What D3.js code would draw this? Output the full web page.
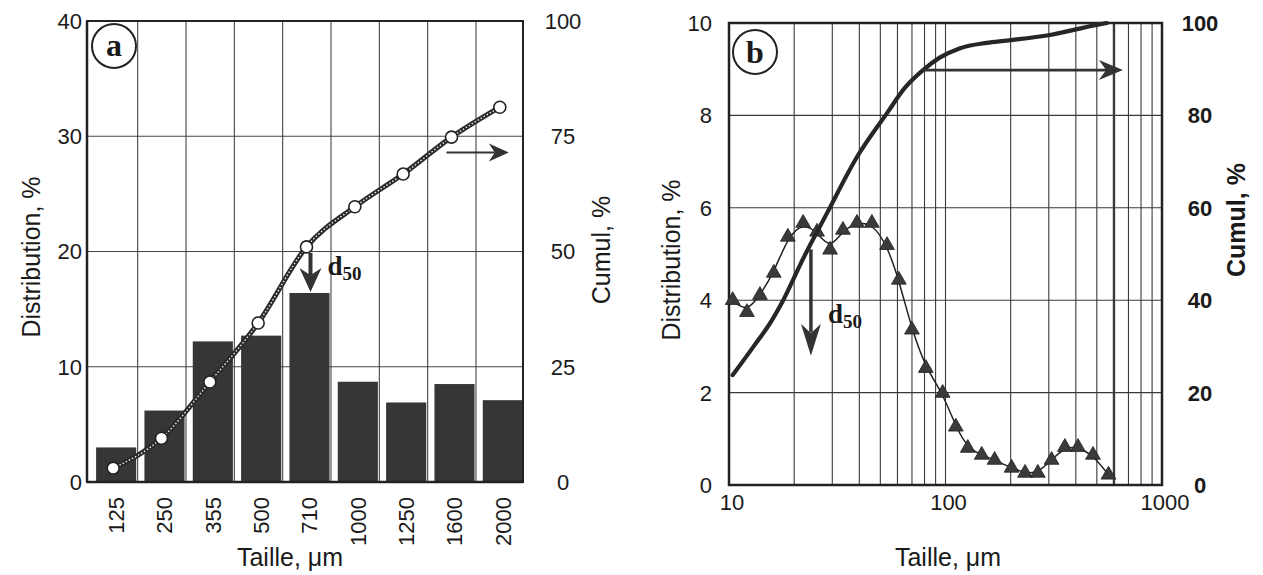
<!DOCTYPE html>
<html><head><meta charset="utf-8">
<script src="https://cdn.jsdelivr.net/npm/d3@7"></script>
<style>
html,body{margin:0;padding:0;background:#fff;}
svg{display:block;}
text{font-family:"Liberation Sans",Arial,sans-serif;fill:#1a1a1a;}
</style></head>
<body>
<svg id="chart" width="1263" height="575"></svg>
<script>
// ---------- Panel a data ----------
const catsA = ["125","250","355","500","710","1000","1250","1600","2000"];
const distA = [3.0, 6.2, 12.2, 12.7, 16.4, 8.7, 6.9, 8.5, 7.1];
const cumA  = [3.0, 9.5, 21.7, 34.5, 51.0, 59.7, 66.8, 74.8, 81.3];
const ticksLeftA  = [0, 10, 20, 30, 40];
const ticksRightA = [0, 25, 50, 75, 100];

// ---------- Panel b data ----------
const sizeB = [10.4,12.1,13.9,16.1,18.7,22.0,25.5,29.3,33.6,39.0,45.7,53.7,60.9,70.0,81.1,97,111.6,126.7,147,168.6,202,233,267,309,356,409,480,566];
const distB = [4.0,3.74,4.11,4.59,5.37,5.67,5.48,5.09,5.52,5.67,5.67,5.19,4.44,3.36,2.53,1.99,1.26,0.80,0.65,0.54,0.37,0.26,0.26,0.54,0.82,0.82,0.65,0.22];
const cumSizeB = [10.4, 13, 15.8, 17.8, 22, 28.4, 39, 53.7, 65, 78.7, 94, 116, 155, 192, 303, 499, 556];
const cumB     = [23.8, 30, 35.7, 40, 49, 58.9, 71, 80.5, 86, 89.8, 92.5, 94.5, 95.7, 96.2, 97.4, 99.6, 100];
const ticksLeftB  = [0, 2, 4, 6, 8, 10];
const ticksRightB = [0, 20, 40, 60, 80, 100];
const ticksXB = [10, 100, 1000];

const svg = d3.select("#chart");
const dark = "#333";

function arrowHead(g, x, y, dir, len, half) {
  let pts;
  if (dir === "down") pts = [[x, y], [x - half, y - len], [x, y - len * 0.7], [x + half, y - len]];
  else pts = [[x, y], [x - len, y - half], [x - len * 0.7, y], [x - len, y + half]];
  g.append("path").attr("d", "M" + pts.map(p => p.join(",")).join("L") + "Z").attr("fill", dark);
}

// =================== PANEL A ===================
(function(){
  const L = 87, R = 523, T = 21, B = 482;
  const g = svg.append("g");
  const x = d3.scaleBand().domain(catsA).range([92, 527]).paddingInner(0.17).paddingOuter(0.085);
  const y = d3.scaleLinear().domain([0, 40]).range([B, T]);
  const y2 = d3.scaleLinear().domain([0, 100]).range([B, T]);
  const cx = d => x(d) + x.bandwidth() / 2;

  g.selectAll(".hg").data(ticksLeftA.slice(1, -1)).join("line")
    .attr("x1", L).attr("x2", R).attr("y1", d => y(d)).attr("y2", d => y(d))
    .attr("stroke", "#444").attr("stroke-width", 1.1);
  g.selectAll(".vg").data(catsA.slice(0, -1)).join("line")
    .attr("x1", d => cx(d) + 21.5).attr("x2", d => cx(d) + 21.5).attr("y1", T).attr("y2", B)
    .attr("stroke", "#444").attr("stroke-width", 1.1);

  g.selectAll(".bar").data(catsA).join("rect")
    .attr("x", d => x(d)).attr("width", x.bandwidth())
    .attr("y", (d, i) => y(distA[i])).attr("height", (d, i) => B - y(distA[i]))
    .attr("fill", "#363636");

  g.append("rect").attr("x", L).attr("y", T).attr("width", R - L).attr("height", B - T)
    .attr("fill", "none").attr("stroke", "#222").attr("stroke-width", 2);
  g.append("line").attr("x1", L).attr("x2", L).attr("y1", T).attr("y2", B).attr("stroke", "#222").attr("stroke-width", 2.5);
  g.append("line").attr("x1", L).attr("x2", R).attr("y1", B).attr("y2", B).attr("stroke", "#222").attr("stroke-width", 2.5);

  const pts = catsA.map((c, i) => [cx(c) - 3, y2(cumA[i])]);
  const line = d3.line().curve(d3.curveMonotoneX);
  g.append("path").attr("d", line(pts)).attr("fill", "none").attr("stroke", "#2a2a2a").attr("stroke-width", 5);
  g.append("path").attr("d", line(pts)).attr("fill", "none").attr("stroke", "#eee").attr("stroke-width", 1.4).attr("stroke-dasharray", "1.5,2");
  g.selectAll(".pt").data(pts).join("circle")
    .attr("cx", d => d[0]).attr("cy", d => d[1]).attr("r", 6)
    .attr("fill", "#fff").attr("stroke", "#222").attr("stroke-width", 1.6);

  const ax = cx("710") + 1, ay0 = y2(cumA[4]) + 6, ay1 = y(distA[4]) - 1;
  g.append("line").attr("x1", ax).attr("x2", ax).attr("y1", ay0).attr("y2", ay1 - 15).attr("stroke", dark).attr("stroke-width", 4);
  arrowHead(g, ax, ay1, "down", 24, 11);
  const t = g.append("text").attr("x", ax + 17).attr("y", y2(cumA[4]) + 28)
    .style("font-family", "'Liberation Serif','Times New Roman',serif").style("font-weight", "bold").style("font-size", "27px");
  t.append("tspan").text("d");
  t.append("tspan").text("50").attr("dy", 5).style("font-size", "19px");

  const ry = y2(71.5);
  g.append("line").attr("x1", cx("1600") - 8).attr("x2", cx("2000") - 8).attr("y1", ry).attr("y2", ry).attr("stroke", dark).attr("stroke-width", 2);
  arrowHead(g, cx("2000") + 6, ry, "right", 20, 9);

  g.append("circle").attr("cx", 114).attr("cy", 46).attr("r", 22).attr("fill", "#fff").attr("stroke", "#222").attr("stroke-width", 2);
  g.append("text").attr("x", 114).attr("y", 56).attr("text-anchor", "middle")
    .style("font-family", "'Liberation Serif','Times New Roman',serif").style("font-weight", "bold").style("font-size", "32px").text("a");

  g.selectAll(".yl").data(ticksLeftA).join("text")
    .attr("x", 82).attr("y", d => y(d)).attr("dy", "0.36em").attr("text-anchor", "end")
    .style("font-size", "22px").text(d => d);
  g.selectAll(".yr").data(ticksRightA).join("text")
    .attr("x", 563).attr("y", d => y2(d)).attr("dy", "0.36em").attr("text-anchor", "middle")
    .style("font-size", "22px").text(d => d);
  g.selectAll(".xl").data(catsA).join("text")
    .attr("transform", d => `translate(${cx(d)},497) rotate(-90)`)
    .attr("dy", "0.36em").attr("text-anchor", "end")
    .style("font-size", "22px").text(d => d);

  g.append("text").attr("x", 290).attr("y", 566).attr("text-anchor", "middle").style("font-size", "25px").text("Taille, \u03bcm");
  g.append("text").attr("transform", "translate(40,257) rotate(-90)").attr("text-anchor", "middle").style("font-size", "25px").text("Distribution, %");
  g.append("text").attr("transform", "translate(610,250) rotate(-90)").attr("text-anchor", "middle").style("font-size", "25px").text("Cumul, %");
})();

// =================== PANEL B ===================
(function(){
  const L = 729, R = 1162, T = 23, B = 485;
  const g = svg.append("g");
  const x = d3.scaleLog().domain([10, 1000]).range([L, R]);
  const y = d3.scaleLinear().domain([0, 10]).range([B, T]);
  const y2 = d3.scaleLinear().domain([0, 100]).range([B, T]);

  const minor = [];
  [10, 100].forEach(dec => { for (let k = 2; k <= 10; k++) minor.push(dec * k); });
  g.selectAll(".vg").data(minor).join("line")
    .attr("x1", d => x(d)).attr("x2", d => x(d)).attr("y1", T).attr("y2", B)
    .attr("stroke", "#3a3a3a").attr("stroke-width", d => d === 600 ? 2.4 : 1.1);
  g.selectAll(".hg").data(ticksLeftB.slice(1, -1)).join("line")
    .attr("x1", L).attr("x2", R).attr("y1", d => y(d)).attr("y2", d => y(d))
    .attr("stroke", "#3a3a3a").attr("stroke-width", 1.1);

  g.append("rect").attr("x", L).attr("y", T).attr("width", R - L).attr("height", B - T)
    .attr("fill", "none").attr("stroke", "#222").attr("stroke-width", 2.5);

  const dpts = sizeB.map((s, i) => [x(s), y(distB[i])]);
  const dline = d3.line().curve(d3.curveBasis);
  g.append("path").attr("d", dline([[x(10), y(4.0)]].concat(dpts))).attr("fill", "none").attr("stroke", "#222").attr("stroke-width", 1.5);
  const tri = d3.symbol().type(d3.symbolTriangle).size(95);
  g.selectAll(".tri").data(dpts).join("path")
    .attr("d", tri).attr("transform", d => `translate(${d[0]},${d[1]})`)
    .attr("fill", "#3a3a3a").attr("stroke", "#222").attr("stroke-width", 0.8);

  const cpts = cumSizeB.map((s, i) => [x(s), y2(cumB[i])]);
  g.append("path").attr("d", d3.line().curve(d3.curveMonotoneX)(cpts)).attr("fill", "none")
    .attr("stroke", "#262626").attr("stroke-width", 4.2).attr("stroke-linecap", "round");

  const dx = x(23.9);
  g.append("line").attr("x1", dx).attr("x2", dx).attr("y1", y2(51)).attr("y2", y(3.3)).attr("stroke", dark).attr("stroke-width", 3.5);
  arrowHead(g, dx, y(2.8), "down", 32, 10);
  const t = g.append("text").attr("x", dx + 17).attr("y", y(3.5))
    .style("font-family", "'Liberation Serif','Times New Roman',serif").style("font-weight", "bold").style("font-size", "27px");
  t.append("tspan").text("d");
  t.append("tspan").text("50").attr("dy", 5).style("font-size", "19px");

  const ay = y2(89.8);
  g.append("line").attr("x1", x(78.7)).attr("x2", x(620)).attr("y1", ay).attr("y2", ay).attr("stroke", dark).attr("stroke-width", 2.6);
  arrowHead(g, x(660), ay, "right", 24, 10);

  g.append("circle").attr("cx", 755).attr("cy", 52).attr("r", 22).attr("fill", "#fff").attr("stroke", "#222").attr("stroke-width", 2);
  g.append("text").attr("x", 755).attr("y", 63).attr("text-anchor", "middle")
    .style("font-family", "'Liberation Serif','Times New Roman',serif").style("font-weight", "bold").style("font-size", "32px").text("b");

  g.selectAll(".yl").data(ticksLeftB).join("text")
    .attr("x", 712).attr("y", d => y(d)).attr("dy", "0.36em").attr("text-anchor", "end")
    .style("font-size", "22px").text(d => d);
  g.selectAll(".yr").data(ticksRightB).join("text")
    .attr("x", 1200).attr("y", d => y2(d)).attr("dy", "0.36em").attr("text-anchor", "middle")
    .style("font-size", "22px").style("font-weight", "bold").text(d => d);
  g.selectAll(".xl").data(ticksXB).join("text")
    .attr("x", d => x(d) + 3).attr("y", 502).attr("dy", "0.36em").attr("text-anchor", "middle")
    .style("font-size", "22px").text(d => d);

  g.append("text").attr("x", 948).attr("y", 566).attr("text-anchor", "middle").style("font-size", "25px").text("Taille, \u03bcm");
  g.append("text").attr("transform", "translate(680,260) rotate(-90)").attr("text-anchor", "middle").style("font-size", "25px").text("Distribution, %");
  g.append("text").attr("transform", "translate(1245,220) rotate(-90)").attr("text-anchor", "middle").style("font-size", "25px").style("font-weight", "bold").text("Cumul, %");
})();
</script>
</body></html>
